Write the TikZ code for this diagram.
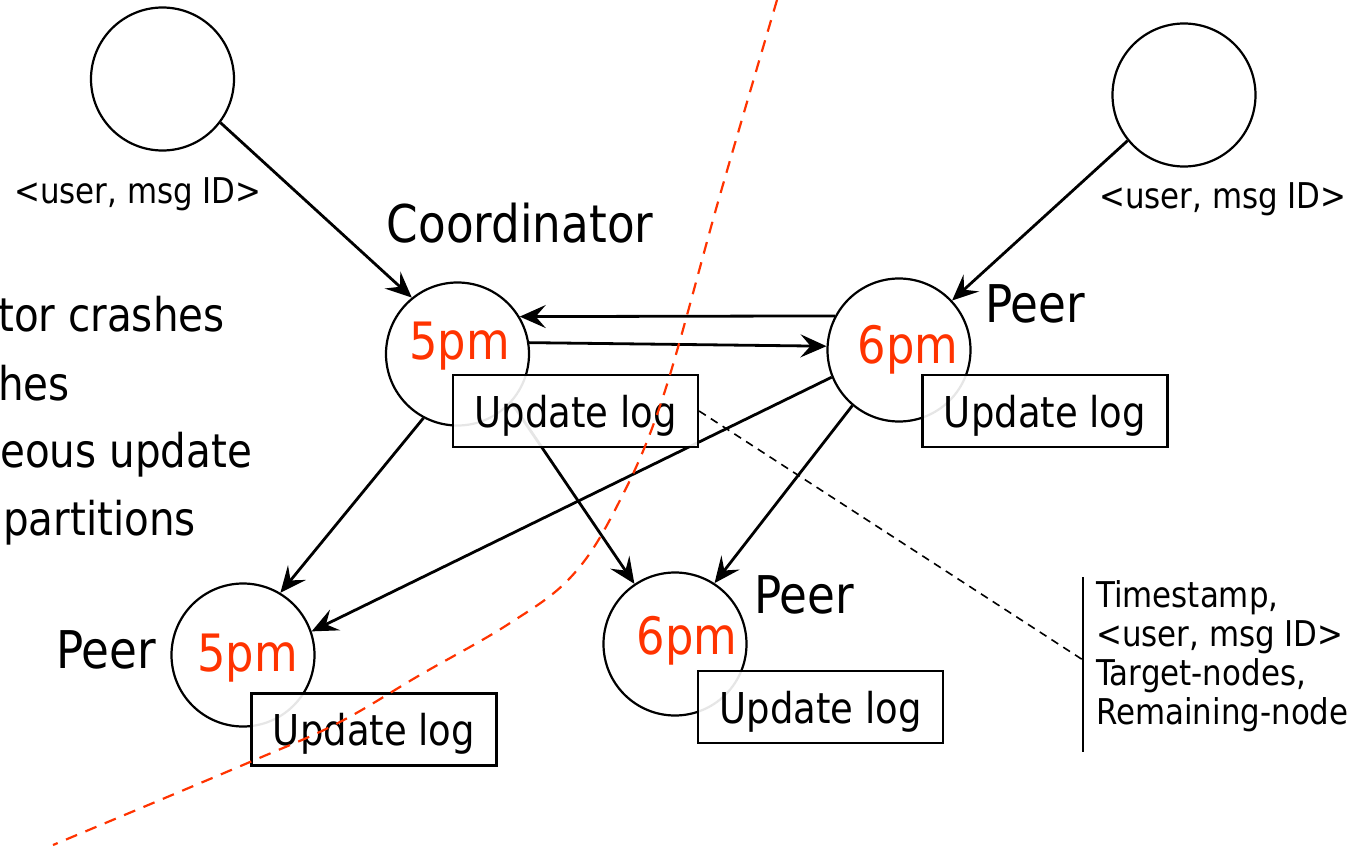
\documentclass[tikz,border=0pt]{standalone}
\usepackage{fontspec}
\setmainfont[FakeStretch=0.87]{DejaVu Sans}
\usetikzlibrary{arrows.meta}
\definecolor{tsred}{RGB}{255,51,0}

\begin{document}
\begin{tikzpicture}[x=1pt,y=-1pt,
  site/.style={circle, draw, line width=2.2pt, minimum size=143pt, inner sep=0pt},
  logbox/.style={draw, line width=2.2pt, fill=white, fill opacity=0.9, text opacity=1,
    minimum width=245pt, minimum height=72pt, inner sep=0pt, text depth=0pt,
    font=\fontsize{42.5}{50}\selectfont},
  msg/.style={-{Stealth[length=26pt,width=23pt,inset=10pt]}, line width=2.8pt},
  clock/.style={text=tsred, font=\fontsize{51.5}{60}\selectfont, inner sep=0pt, anchor=base},
  role/.style={font=\fontsize{52}{60}\selectfont, inner sep=0pt, anchor=base},
  key/.style={font=\fontsize{35.5}{40}\selectfont, inner sep=0pt},
  bullet/.style={font=\fontsize{46.5}{54}\selectfont, inner sep=0pt, anchor=base west},
  partition/.style={tsred, line width=2.2pt, dash pattern=on 12pt off 9pt},
  leader/.style={line width=1.6pt, dash pattern=on 8pt off 6pt}]

\useasboundingbox (0,0) rectangle (1358,851);

% clients and servers
\node[site] (tl) at (162.5,79) {};
\node[site] (tr) at (1184,95) {};
\node[site] (coord) at (457.5,354) {};
\node[site] (rp) at (899,350) {};
\node[site] (bl) at (243,655) {};
\node[site] (bm) at (675,644) {};

% clock values
\node[clock] (t1) at (459.5,359) {5pm};
\node[clock] (t2) at (908,363) {6pm};
\node[clock] (t3) at (247.5,671) {5pm};
\node[clock] (t4) at (687,654) {6pm};

% messages
\draw[msg] (tl.-37) -- (coord.129);
\draw[msg] (tr.219.5) -- (rp.43);
\draw[msg] (rp.152) -- (coord.31);
\draw[msg] (coord.9) -- (rp.177);
\draw[msg] (rp.202) -- (bl.19);
\draw[msg] (coord.242) -- (bl.59);
\draw[msg] (coord.-42) -- (bm.124);
\draw[msg] (rp.230.5) -- (bm.57);

% update logs
\node[logbox] (cbox) at (575.5,411) {Update log};
\node[logbox] (rbox) at (1045,411) {Update log};
\node[logbox] (blbox) at (374,729.5) {Update log};
\node[logbox] (bmbox) at (820.5,707) {Update log};

% roles
\node[role] (lcoord) at (520,242) {Coordinator};
\node[role] (lrp) at (1035,322) {Peer};
\node[role] (lbm) at (804,613) {Peer};
\node[role] (lbl) at (106,668) {Peer};

% request labels
\node[key, anchor=base] (u1) at (138,203) {<user, msg ID>};
\node[key, anchor=base] (u2) at (1223,208) {<user, msg ID>};

% failure cases
\node[bullet] (f1) at (-2,331) {tor crashes};
\node[bullet] (f2) at (-2,400) {hes};
\node[bullet] (f3) at (0,467) {eous update};
\node[bullet] (f4) at (3,535) {partitions};

% log entry contents
\coordinate (bartop) at (1083,577);
\coordinate (barbot) at (1083,752);
\coordinate (dashend) at (1083,660);
\draw[line width=1.6pt] (bartop) -- (barbot);
\draw[leader] (cbox.east) -- (dashend);
\node[key, anchor=base west] (k1) at (1096,607) {Timestamp,};
\node[key, anchor=base west] (k2) at (1096,646) {<user, msg ID>};
\node[key, anchor=base west] (k3) at (1096,685) {Target-nodes,};
\node[key, anchor=base west] (k4) at (1096,724) {Remaining-node};

% network partition
\draw[partition] plot[smooth, tension=0.6] coordinates
  {(777,0) (720,195) (662,400) (615,510) (570,578) (507,625) (420,675) (338,723) (250,762) (53,845)};

\end{tikzpicture}
\end{document}
